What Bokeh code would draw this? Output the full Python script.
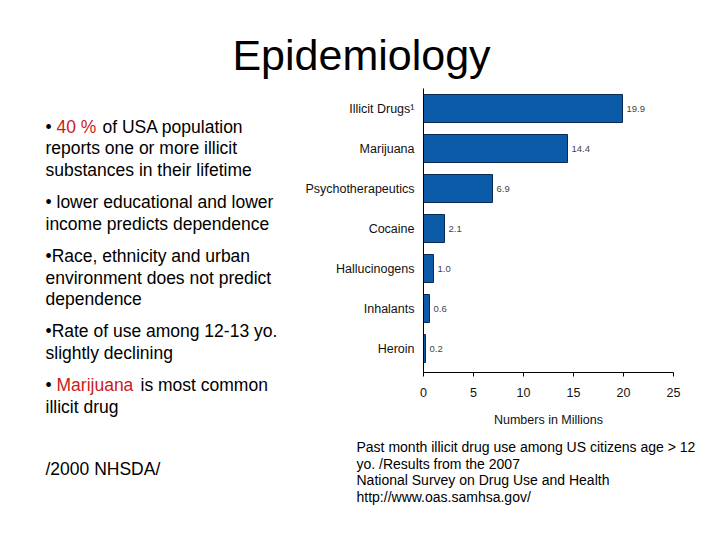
from bokeh.plotting import figure
from bokeh.layouts import column, row
from bokeh.models import Label, ColumnDataSource, Range1d, LabelSet, FixedTicker
from bokeh.core.properties import value
from bokeh.embed import file_html
from bokeh.resources import INLINE

# ---- data ----
drugs = ["Illicit Drugs¹", "Marijuana", "Psychotherapeutics", "Cocaine",
         "Hallucinogens", "Inhalants", "Heroin"]
millions = [19.9, 14.4, 6.9, 2.1, 1.0, 0.6, 0.2]
value_text = ["19.9", "14.4", "6.9", "2.1", "1.0", "0.6", "0.2"]
x_ticks = [0, 5, 10, 15, 20, 25]

title_text = "Epidemiology"
bullet_lines = [
    [("•", "black"), ("40 %", "#cc1a1a"), ("of USA population", "black")],
    [("reports one or more illicit", "black")],
    [("substances in their lifetime", "black")],
    [("• lower educational and lower", "black")],
    [("income predicts dependence", "black")],
    [("•Race, ethnicity and urban", "black")],
    [("environment does not predict", "black")],
    [("dependence", "black")],
    [("•Rate of use among 12-13 yo.", "black")],
    [("slightly declining", "black")],
    [("•", "black"), ("Marijuana", "#cc1a1a"), ("is most common", "black")],
    [("illicit drug", "black")],
]
source_note = "/2000 NHSDA/"
footnote_lines = [
    "Past month illicit drug use among US citizens age > 12",
    "yo. /Results from the 2007",
    "National Survey on Drug Use and Health",
    "http://www.oas.samhsa.gov/",
]

FONT = "Liberation Sans"
W, H = 720, 540
TOP_H = 88          # title band
SPLIT_X = 300       # left text column / right chart column
CHART_BOTTOM = 430  # chart figure bottom edge
FR_L, FR_R, FR_B = 423, 673, 372
BASE_SHIFT = 0.32   # Bokeh alphabetic baseline correction (fraction of em)


def text_panel(x0, y0, w, h):
    f = figure(width=w, height=h, output_backend="svg", toolbar_location=None,
               x_range=Range1d(x0, x0 + w), y_range=Range1d(y0 + h, y0),
               x_axis_type=None, y_axis_type=None,
               min_border=0, outline_line_color=None, frame_align=False)
    f.grid.visible = False
    return f


def add_text(f, txt, rx, ry, size, color="black", align="left"):
    f.add_layout(Label(x=rx, y=ry - BASE_SHIFT * size, text=txt, text_font=FONT,
                       text_font_size=f"{size}px", text_color=color,
                       text_align=align, text_baseline="alphabetic"))


# ---- title band ----
top = text_panel(0, 0, W, TOP_H)
add_text(top, title_text, 361, 68, 43, align="center")

# ---- left bullet text ----
left = text_panel(0, TOP_H, SPLIT_X, H - TOP_H)
line_base = [132, 153.5, 175, 207.5, 229, 261.5, 283, 304.5, 336.5, 358, 390.5, 412]
piece_x = {0: [45, 56, 102], 10: [45, 56, 140]}
for i, pieces in enumerate(bullet_lines):
    xs = piece_x.get(i, [45])
    for (t, c), rx in zip(pieces, xs):
        add_text(left, t, rx, line_base[i], 17.5, color=c)
add_text(left, source_note, 45, 474, 17.5)

# ---- bar chart ----
n = len(drugs)
ypos = [n - 1 - i for i in range(n)]   # first category on top
p = figure(width=W - SPLIT_X, height=CHART_BOTTOM - TOP_H,
           output_backend="svg", toolbar_location=None,
           y_range=Range1d(-0.6, n - 0.5 + 0.0), x_range=Range1d(0, 25),
           frame_align=False,
           min_border_left=FR_L - SPLIT_X, min_border_right=W - FR_R,
           min_border_top=0, min_border_bottom=CHART_BOTTOM - FR_B)
p.outline_line_color = None
p.grid.visible = False

src = ColumnDataSource(dict(y=ypos, val=millions, txt=value_text))
p.hbar(y="y", right="val", left=0, height=0.7, source=src,
       fill_color="#0b5ba8", line_color="#0a2a55", line_width=1)
p.add_layout(LabelSet(x="val", y="y", text="txt", source=src, x_offset=4,
                      text_baseline="middle", text_font=value(FONT),
                      text_font_size="9.5px", text_color="#444444"))

p.xaxis.ticker = x_ticks
p.xaxis.axis_label = "Numbers in Millions"
p.xaxis.axis_label_text_font = FONT
p.xaxis.axis_label_text_font_size = "12.5px"
p.xaxis.axis_label_text_font_style = "normal"
p.xaxis.axis_label_text_color = "#111111"
p.xaxis.axis_label_standoff = 13
p.xaxis.major_label_text_font = FONT
p.xaxis.major_label_text_font_size = "12.5px"
p.xaxis.major_label_text_color = "#111111"
p.xaxis.major_label_standoff = 11
p.xaxis.major_tick_in = 0
p.xaxis.major_tick_out = 4
p.xaxis.minor_tick_line_color = None
p.xaxis.axis_line_color = "black"
p.xaxis.major_tick_line_color = "black"

p.yaxis.ticker = FixedTicker(ticks=ypos)
p.yaxis.major_label_overrides = {y: d for y, d in zip(ypos, drugs)}
p.yaxis.major_label_text_font = FONT
p.yaxis.major_label_text_font_size = "12.5px"
p.yaxis.major_label_text_color = "#111111"
p.yaxis.major_label_standoff = 9
p.yaxis.major_tick_line_color = None
p.yaxis.minor_tick_line_color = None
p.yaxis.major_tick_out = 0
p.yaxis.major_tick_in = 0
p.yaxis.axis_line_color = "black"

# ---- footnote under chart ----
foot = text_panel(SPLIT_X, CHART_BOTTOM, W - SPLIT_X, H - CHART_BOTTOM)
foot_base = [451, 467.5, 484, 500.5]
for t, b in zip(footnote_lines, foot_base):
    add_text(foot, t, 356, b, 14)

layout = column(top, row(left, column(p, foot, spacing=0), spacing=0), spacing=0)
open("out.html", "w").write(file_html(layout, INLINE))
